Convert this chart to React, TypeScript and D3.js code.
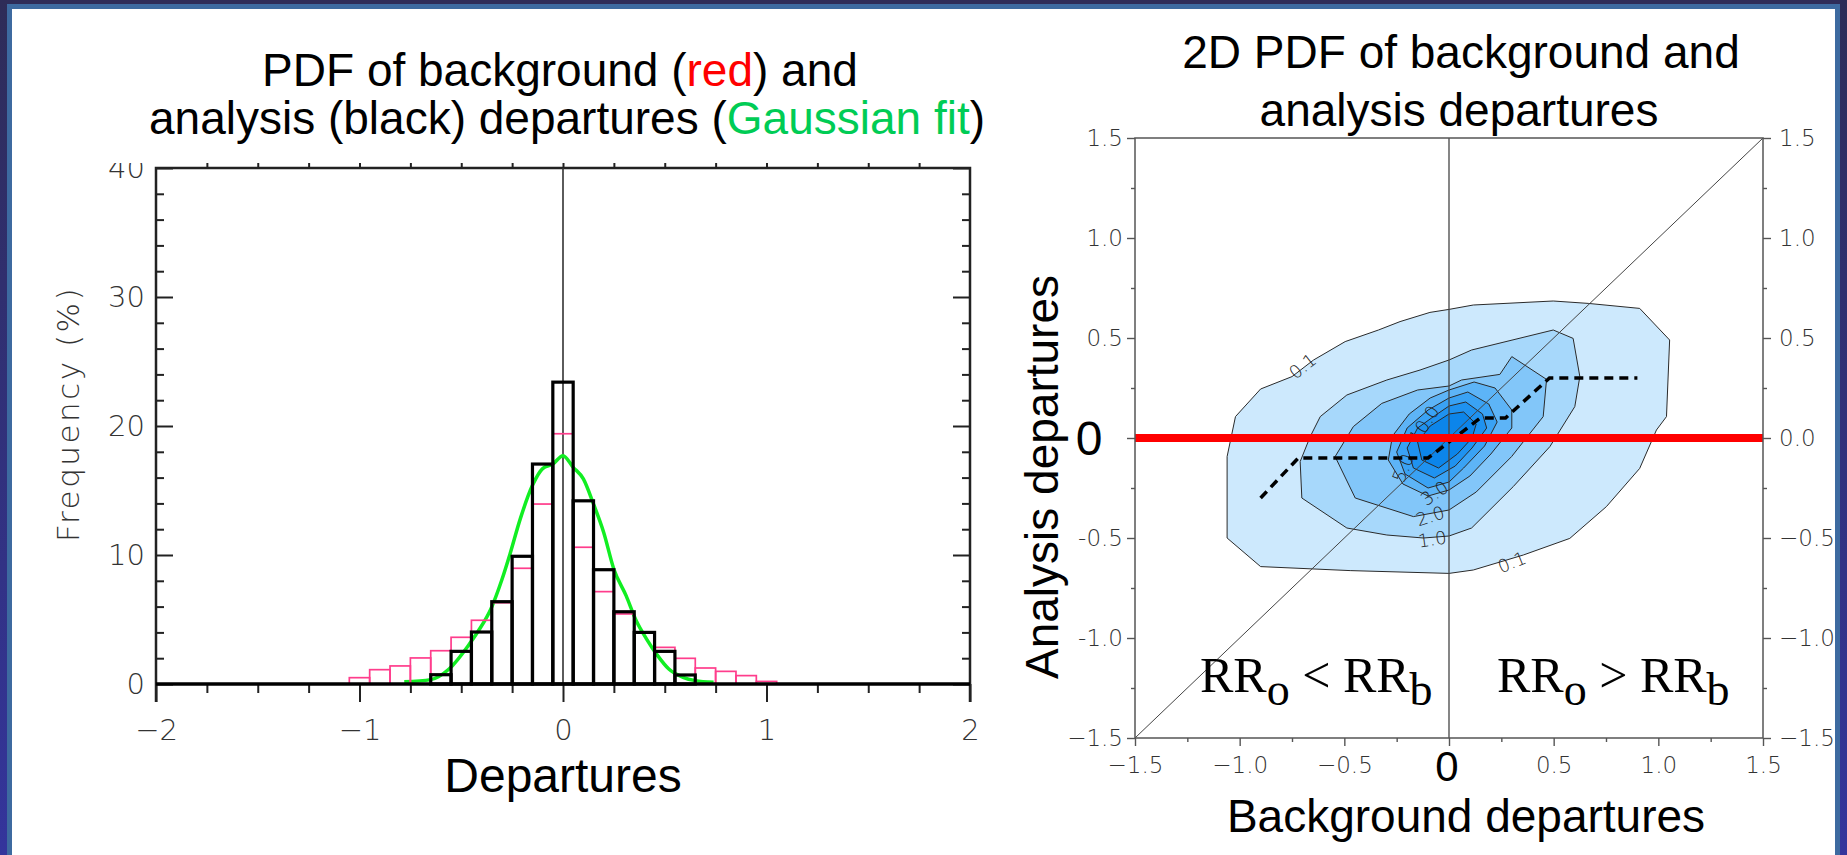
import * as d3 from "d3";
import React, { useRef, useEffect } from "react";

const W = 1847;
const H = 855;

// ---------- left panel: PDF of departures (percent per 0.1 bin) ----------
const binCenters = [-1.0, -0.9, -0.8, -0.7, -0.6, -0.5, -0.4, -0.3, -0.2, -0.1, 0.0, 0.1, 0.2, 0.3, 0.4, 0.5, 0.6, 0.7, 0.8, 0.9, 1.0];
const backgroundPct = [0.49, 1.11, 1.4, 2.02, 2.58, 3.62, 4.94, 6.3, 8.97, 13.95, 19.4, 10.6, 7.16, 5.43, 4.0, 2.84, 1.99, 1.24, 0.98, 0.65, 0.2];
const analysisPct = [0, 0, 0, 0, 0.72, 2.53, 4.03, 6.38, 9.9, 17.05, 23.4, 14.2, 8.86, 5.6, 4.0, 2.53, 0.7, 0, 0, 0, 0];
const binWidth = 0.1;

// gaussian fit
const gaussX = [-0.78, -0.65, -0.56, -0.46, -0.41, -0.355, -0.3, -0.26, -0.21, -0.15, -0.1, -0.05, 0, 0.05, 0.1, 0.15, 0.2, 0.25, 0.31, 0.36, 0.41, 0.465, 0.52, 0.59, 0.65, 0.74];
const gaussY = [0.18, 0.34, 1.16, 3.1, 4.26, 5.8, 8.1, 10.1, 12.8, 15.4, 16.7, 17.05, 17.7, 16.8, 15.9, 13.95, 11.75, 8.9, 6.85, 4.9, 3.5, 2.2, 1.16, 0.52, 0.26, 0.13];

const histXTicks = [-2, -1, 0, 1, 2];
const histYTicks = [0, 10, 20, 30, 40];

// ---------- right panel: 2D PDF ----------
const scatterTicks = [-1.5, -1, -0.5, 0, 0.5, 1, 1.5];
const leftTickLabels = ["\u22121.5", "-1.0", "-0.5", "", "0.5", "1.0", "1.5"];
const rightTickLabels = ["\u22121.5", "\u22121.0", "\u22120.5", "0.0", "0.5", "1.0", "1.5"];
const bottomTickLabels = ["\u22121.5", "\u22121.0", "\u22120.5", "", "0.5", "1.0", "1.5"];

const contourLevels = ["0.1", "1.0", "2.0", "3.0", "4.0", "5.0", "10.0"];
const contourFills = ["#cde9fd", "#a7d8fb", "#82c6f9", "#5db4f7", "#3aa2f4", "#1f92f0", "#0c85ea"];

const c01X = [0, 0.116, 0.498, 0.665, 0.911, 1.054, 1.039, 0.991, 0.911, 0.752, 0.577, 0.355, 0.116, 0, -0.472, -0.9, -1.06, -1.06, -1.02, -0.9, -0.75, -0.647, -0.496, -0.337, -0.234, -0.091];
const c01Y = [0.643, 0.665, 0.685, 0.673, 0.648, 0.49, 0.107, 0.04, -0.152, -0.343, -0.502, -0.585, -0.66, -0.677, -0.663, -0.643, -0.5, -0.093, 0.107, 0.245, 0.307, 0.39, 0.482, 0.54, 0.582, 0.628];
const c1X = [0, 0.108, 0.498, 0.593, 0.625, 0.601, 0.482, 0.307, 0.108, 0, -0.122, -0.297, -0.488, -0.703, -0.711, -0.663, -0.615, -0.488, -0.297, -0.138];
const c1Y = [0.39, 0.44, 0.54, 0.498, 0.307, 0.157, -0.043, -0.243, -0.45, -0.49, -0.5, -0.485, -0.45, -0.3, -0.118, 0.007, 0.107, 0.215, 0.29, 0.34];
const c2X = [0, 0.06, 0.243, 0.3, 0.466, 0.45, 0.299, 0.13, 0, -0.17, -0.448, -0.544, -0.457, -0.321, -0.15];
const c2Y = [0.26, 0.29, 0.318, 0.407, 0.293, 0.107, -0.093, -0.27, -0.36, -0.393, -0.3, -0.093, 0.057, 0.173, 0.24];
const c3X = [0, 0.12, 0.22, 0.3, 0.3, 0.2, 0.1, 0, -0.1, -0.22, -0.29, -0.27, -0.19, -0.09];
const c3Y = [0.24, 0.28, 0.25, 0.14, 0.05, -0.08, -0.19, -0.26, -0.29, -0.23, -0.11, 0.01, 0.12, 0.2];
const c4X = [0, 0.09, 0.19, 0.23, 0.17, 0.07, 0, -0.1, -0.21, -0.25, -0.2, -0.1];
const c4Y = [0.2, 0.23, 0.17, 0.08, -0.04, -0.15, -0.22, -0.25, -0.18, -0.07, 0.05, 0.14];
const c5X = [0, 0.08, 0.16, 0.18, 0.11, 0.03, -0.07, -0.17, -0.2, -0.15, -0.07];
const c5Y = [0.16, 0.18, 0.12, 0.05, -0.05, -0.14, -0.2, -0.15, -0.05, 0.05, 0.11];
const c10X = [0, 0.07, 0.13, 0.11, 0.04, -0.05, -0.13, -0.15, -0.09];
const c10Y = [0.12, 0.13, 0.07, 0, -0.08, -0.15, -0.11, -0.02, 0.06];

const contourXs = [c01X, c1X, c2X, c3X, c4X, c5X, c10X];
const contourYs = [c01Y, c1Y, c2Y, c3Y, c4Y, c5Y, c10Y];

const labelText = ["0.1", "0.1", "1.0", "2.0", "3.0", "5.0", "10.0"];
const labelX = [-0.7, 0.3, -0.08, -0.09, -0.07, -0.22, -0.12];
const labelY = [0.36, -0.62, -0.505, -0.39, -0.275, -0.15, 0.07];
const labelAngle = [-38, -22, -8, -18, -35, -68, -58];

// conditional mean (dashed)
const meanX = [-0.9, -0.72, -0.1, 0.15, 0.27, 0.48, 0.9];
const meanY = [-0.3, -0.1, -0.1, 0.1, 0.1, 0.3, 0.3];

const gradsFont = "'DejaVu Sans', sans-serif";
const arial = "'Liberation Sans', Arial, sans-serif";
const times = "'Liberation Serif', 'Times New Roman', serif";

function Figure() {
  const ref = useRef(null);

  useEffect(() => {
    const svg = d3.select(ref.current);
    svg.selectAll("*").remove();

    // slide background
    const defs = svg.append("defs");
    const grad = defs.append("linearGradient").attr("id", "bg").attr("x1", 0).attr("y1", 0).attr("x2", 0).attr("y2", 1);
    grad.append("stop").attr("offset", "0%").attr("stop-color", "#2e2c58");
    grad.append("stop").attr("offset", "100%").attr("stop-color", "#34359c");
    svg.append("rect").attr("width", W).attr("height", H).attr("fill", "url(#bg)");
    svg.append("rect").attr("x", 7).attr("y", 4).attr("width", W - 14).attr("height", H).attr("fill", "#3d6aa0");
    svg.append("rect").attr("x", 12).attr("y", 9).attr("width", W - 24).attr("height", H).attr("fill", "#fff");

    const styleAxis = (g, size) => {
      g.select(".domain").remove();
      g.selectAll("line").attr("stroke", "#222").attr("stroke-width", 2);
      g.selectAll("text")
        .attr("font-family", gradsFont)
        .attr("font-weight", 200)
        .attr("font-size", size)
        .attr("fill", "#333");
    };

    // ================= left panel =================
    const xL = d3.scaleLinear().domain([-2, 2]).range([156, 970]);
    const yL = d3.scaleLinear().domain([0, 40]).range([684, 168]);
    const gL = svg.append("g");
    const minorY = d3.range(2, 40, 2).filter((v) => v % 10 !== 0);

    // y axis, left (inward ticks)
    gL.append("g")
      .attr("transform", `translate(${xL(-2)},0)`)
      .call(d3.axisLeft(yL).tickValues(histYTicks).tickSize(-17).tickSizeOuter(0).tickPadding(11).tickFormat(d3.format("d")))
      .call((g) => styleAxis(g, 29));
    gL.append("g")
      .attr("transform", `translate(${xL(-2)},0)`)
      .call(d3.axisLeft(yL).tickValues(minorY).tickSize(-8).tickSizeOuter(0).tickFormat(() => ""))
      .call((g) => styleAxis(g, 29));
    gL.append("g")
      .attr("transform", `translate(${xL(2)},0)`)
      .call(d3.axisRight(yL).tickValues(histYTicks).tickSize(-17).tickSizeOuter(0).tickFormat(() => ""))
      .call((g) => styleAxis(g, 29));
    gL.append("g")
      .attr("transform", `translate(${xL(2)},0)`)
      .call(d3.axisRight(yL).tickValues(minorY).tickSize(-8).tickSizeOuter(0).tickFormat(() => ""))
      .call((g) => styleAxis(g, 29));

    // x axis, bottom (outward ticks)
    gL.append("g")
      .attr("transform", `translate(0,${yL(0)})`)
      .call(d3.axisBottom(xL).tickValues(histXTicks).tickSize(18).tickSizeOuter(0).tickPadding(17).tickFormat(d3.format("d")))
      .call((g) => styleAxis(g, 29));
    gL.append("g")
      .attr("transform", `translate(0,${yL(0)})`)
      .call(d3.axisBottom(xL).tickValues(d3.range(-1.75, 2, 0.25).filter((v) => v % 1 !== 0)).tickSize(9).tickSizeOuter(0).tickFormat(() => ""))
      .call((g) => styleAxis(g, 29));
    // top axis
    gL.append("g")
      .attr("transform", `translate(0,${yL(40)})`)
      .call(d3.axisTop(xL).tickValues(d3.range(-1.75, 2, 0.25)).tickSize(5).tickSizeOuter(0).tickFormat(() => ""))
      .call((g) => styleAxis(g, 29));

    // frame
    gL.append("path")
      .attr("d", `M${xL(-2)},${yL(0) + 18}V${yL(40)}H${xL(2)}V${yL(0) + 18}`)
      .attr("fill", "none")
      .attr("stroke", "#222")
      .attr("stroke-width", 2.5);

    // zero line
    gL.append("line")
      .attr("x1", xL(0)).attr("x2", xL(0))
      .attr("y1", yL(40)).attr("y2", yL(0))
      .attr("stroke", "#333").attr("stroke-width", 1.6);

    // gaussian fit
    gL.append("path")
      .datum(gaussX.map((x, i) => [x, gaussY[i]]))
      .attr("d", d3.line().x((d) => xL(d[0])).y((d) => yL(d[1])).curve(d3.curveMonotoneX))
      .attr("fill", "none")
      .attr("stroke", "#11ee22")
      .attr("stroke-width", 3.5);

    const bins = binCenters.map((c, i) => ({ c, bg: backgroundPct[i], an: analysisPct[i] }));

    gL.selectAll(".bg-bar")
      .data(bins.filter((d) => d.bg > 0))
      .enter()
      .append("rect")
      .attr("class", "bg-bar")
      .attr("x", (d) => xL(d.c - binWidth / 2))
      .attr("width", (d) => xL(d.c + binWidth / 2) - xL(d.c - binWidth / 2))
      .attr("y", (d) => yL(d.bg))
      .attr("height", (d) => yL(0) - yL(d.bg))
      .attr("fill", "none")
      .attr("stroke", "#ff3d8c")
      .attr("stroke-width", 1.7);

    gL.selectAll(".an-bar")
      .data(bins.filter((d) => d.an > 0))
      .enter()
      .append("rect")
      .attr("class", "an-bar")
      .attr("x", (d) => xL(d.c - binWidth / 2))
      .attr("width", (d) => xL(d.c + binWidth / 2) - xL(d.c - binWidth / 2))
      .attr("y", (d) => yL(d.an))
      .attr("height", (d) => yL(0) - yL(d.an))
      .attr("fill", "none")
      .attr("stroke", "#000")
      .attr("stroke-width", 3.2);

    // baseline
    gL.append("line")
      .attr("x1", xL(-2)).attr("x2", xL(2))
      .attr("y1", yL(0)).attr("y2", yL(0))
      .attr("stroke", "#000").attr("stroke-width", 3.5);

    gL.append("text")
      .attr("transform", `translate(79,414) rotate(-90)`)
      .attr("text-anchor", "middle")
      .attr("font-family", gradsFont)
      .attr("font-weight", 200)
      .attr("font-size", 31)
      .attr("letter-spacing", 2.5)
      .attr("fill", "#333")
      .text("Frequency (%)");

    // title box hides the top of the "40" label
    gL.append("rect").attr("x", 100).attr("y", 140).attr("width", 52).attr("height", 23).attr("fill", "#fff");

    const t1 = gL.append("text")
      .attr("x", 560).attr("y", 86)
      .attr("text-anchor", "middle")
      .attr("font-family", arial).attr("font-size", 46).attr("fill", "#000");
    t1.append("tspan").text("PDF of background (");
    t1.append("tspan").attr("fill", "#ff0000").text("red");
    t1.append("tspan").text(") and");
    const t2 = gL.append("text")
      .attr("x", 567).attr("y", 134)
      .attr("text-anchor", "middle")
      .attr("font-family", arial).attr("font-size", 46).attr("fill", "#000");
    t2.append("tspan").text("analysis (black) departures (");
    t2.append("tspan").attr("fill", "#00cc55").text("Gaussian fit");
    t2.append("tspan").text(")");

    gL.append("text")
      .attr("x", xL(0)).attr("y", 792)
      .attr("text-anchor", "middle")
      .attr("font-family", arial).attr("font-size", 48).attr("fill", "#000")
      .text("Departures");

    // ================= right panel =================
    const xR = d3.scaleLinear().domain([-1.5, 1.5]).range([1135, 1763]);
    const yR = d3.scaleLinear().domain([-1.5, 1.5]).range([738, 138]);
    const gR = svg.append("g");

    const area = d3.line().x((d) => xR(d[0])).y((d) => yR(d[1])).curve(d3.curveLinearClosed);
    contourLevels.forEach((lvl, k) => {
      const pts = contourXs[k].map((x, i) => [x, contourYs[k][i]]);
      gR.append("path")
        .datum(pts)
        .attr("class", "contour")
        .attr("data-level", lvl)
        .attr("d", area)
        .attr("fill", contourFills[k])
        .attr("stroke", "#2a2a2a")
        .attr("stroke-width", 1);
    });

    labelText.forEach((t, i) => {
      gR.append("text")
        .attr("transform", `translate(${xR(labelX[i])},${yR(labelY[i])}) rotate(${labelAngle[i]})`)
        .attr("text-anchor", "middle")
        .attr("dominant-baseline", "central")
        .attr("font-family", gradsFont)
        .attr("font-weight", 200)
        .attr("font-size", 18)
        .attr("fill", "#222")
        .text(t);
    });

    // diagonal and x = 0 line
    gR.append("line")
      .attr("x1", xR(-1.5)).attr("y1", yR(-1.5))
      .attr("x2", xR(1.5)).attr("y2", yR(1.5))
      .attr("stroke", "#444").attr("stroke-width", 1);
    gR.append("line")
      .attr("x1", xR(0)).attr("y1", yR(-1.5))
      .attr("x2", xR(0)).attr("y2", yR(1.5))
      .attr("stroke", "#444").attr("stroke-width", 1.3);

    // conditional mean, dashed
    gR.append("path")
      .datum(meanX.map((x, i) => [x, meanY[i]]))
      .attr("d", d3.line().x((d) => xR(d[0])).y((d) => yR(d[1])))
      .attr("fill", "none")
      .attr("stroke", "#000")
      .attr("stroke-width", 3.5)
      .attr("stroke-dasharray", "9,6");

    // red zero line
    gR.append("line")
      .attr("x1", xR(-1.5)).attr("x2", xR(1.5))
      .attr("y1", yR(0)).attr("y2", yR(0))
      .attr("stroke", "#ff0000").attr("stroke-width", 8);

    // frame
    gR.append("rect")
      .attr("x", xR(-1.5)).attr("y", yR(1.5))
      .attr("width", xR(1.5) - xR(-1.5)).attr("height", yR(-1.5) - yR(1.5))
      .attr("fill", "none").attr("stroke", "#555").attr("stroke-width", 1.5);

    const minor = [-1.25, -0.75, -0.25, 0.25, 0.75, 1.25];
    gR.append("g")
      .attr("transform", `translate(${xR(-1.5)},0)`)
      .call(d3.axisLeft(yR).tickValues(scatterTicks).tickSize(8).tickSizeOuter(0).tickPadding(4).tickFormat((d, i) => leftTickLabels[i]))
      .call((g) => styleAxis(g, 23));
    gR.append("g")
      .attr("transform", `translate(${xR(-1.5)},0)`)
      .call(d3.axisLeft(yR).tickValues(minor).tickSize(4).tickSizeOuter(0).tickFormat(() => ""))
      .call((g) => styleAxis(g, 23));
    gR.append("g")
      .attr("transform", `translate(${xR(1.5)},0)`)
      .call(d3.axisRight(yR).tickValues(scatterTicks).tickSize(8).tickSizeOuter(0).tickPadding(8).tickFormat((d, i) => rightTickLabels[i]))
      .call((g) => styleAxis(g, 23));
    gR.append("g")
      .attr("transform", `translate(${xR(1.5)},0)`)
      .call(d3.axisRight(yR).tickValues(minor).tickSize(4).tickSizeOuter(0).tickFormat(() => ""))
      .call((g) => styleAxis(g, 23));
    gR.append("g")
      .attr("transform", `translate(0,${yR(-1.5)})`)
      .call(d3.axisBottom(xR).tickValues(scatterTicks).tickSize(8).tickSizeOuter(0).tickPadding(11).tickFormat((d, i) => bottomTickLabels[i]))
      .call((g) => styleAxis(g, 23));
    gR.append("g")
      .attr("transform", `translate(0,${yR(-1.5)})`)
      .call(d3.axisBottom(xR).tickValues(minor).tickSize(4).tickSizeOuter(0).tickFormat(() => ""))
      .call((g) => styleAxis(g, 23));
    gR.selectAll(".tick line").attr("stroke", "#555").attr("stroke-width", 1.4);

    // big zeros
    gR.append("text")
      .attr("x", 1089).attr("y", yR(0)).attr("dy", "0.36em")
      .attr("text-anchor", "middle")
      .attr("font-family", arial).attr("font-size", 48).text("0");
    gR.append("text")
      .attr("x", xR(0) - 2).attr("y", 781)
      .attr("text-anchor", "middle")
      .attr("font-family", arial).attr("font-size", 42).text("0");

    gR.append("text")
      .attr("transform", `translate(1058,477) rotate(-90)`)
      .attr("text-anchor", "middle")
      .attr("font-family", arial).attr("font-size", 46)
      .text("Analysis departures");
    gR.append("text")
      .attr("x", 1466).attr("y", 832)
      .attr("text-anchor", "middle")
      .attr("font-family", arial).attr("font-size", 46)
      .text("Background departures");

    gR.append("text").attr("x", 1461).attr("y", 68).attr("text-anchor", "middle")
      .attr("font-family", arial).attr("font-size", 46)
      .text("2D PDF of background and");
    gR.append("text").attr("x", 1459).attr("y", 126).attr("text-anchor", "middle")
      .attr("font-family", arial).attr("font-size", 46)
      .text("analysis departures");

    const rr = (x, op) => {
      const t = gR.append("text").attr("x", x).attr("y", 692)
        .attr("font-family", times).attr("font-size", 50).attr("fill", "#000");
      t.append("tspan").text("RR");
      t.append("tspan").attr("font-size", 46).attr("dy", 13).text("o");
      t.append("tspan").attr("dy", -13).text(` ${op} RR`);
      t.append("tspan").attr("font-size", 46).attr("dy", 13).text("b");
    };
    rr(1200, "<");
    rr(1497, ">");
  }, []);

  return (
    <svg
      ref={ref}
      width={W}
      height={H}
      style={{ display: "block", position: "absolute", left: 0, top: 0 }}
    ></svg>
  );
}

export default function App() {
  return <Figure />;
}
